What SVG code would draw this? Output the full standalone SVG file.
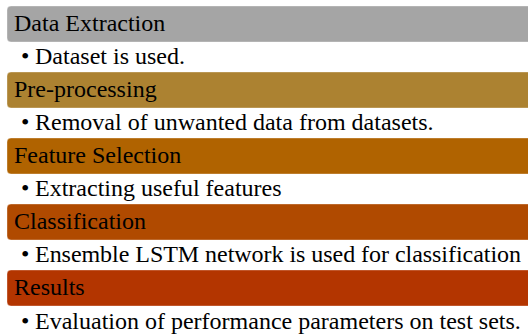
<svg xmlns="http://www.w3.org/2000/svg" width="528" height="336" viewBox="0 0 528 336">
<style>
.bar{stroke:#ffffff;stroke-opacity:0.35;stroke-width:1}
.h{font-family:"Liberation Serif","Times New Roman",serif;font-size:24px;fill:#000}
.b{font-family:"Liberation Serif","Times New Roman",serif;font-size:24px;fill:#000}
</style>
<rect width="528" height="336" fill="#ffffff"/>
<g id="data-extraction">
<rect class="bar" x="7" y="6" width="530" height="36" rx="4" fill="#A5A5A5"/>
<text class="h" x="14" y="31">Data Extraction</text>
<text class="b" x="21" y="64">•</text>
<text class="b" x="35" y="64">Dataset is used.</text>
</g>
<g id="pre-processing">
<rect class="bar" x="7" y="72" width="530" height="36" rx="4" fill="#AC8231"/>
<text class="h" x="14" y="97">Pre-processing</text>
<text class="b" x="21" y="130">•</text>
<text class="b" x="35" y="130">Removal of unwanted data from datasets.</text>
</g>
<g id="feature-selection">
<rect class="bar" x="7" y="138" width="530" height="36" rx="4" fill="#B06300"/>
<text class="h" x="14" y="163">Feature Selection</text>
<text class="b" x="21" y="196">•</text>
<text class="b" x="35" y="196">Extracting useful features</text>
</g>
<g id="classification">
<rect class="bar" x="7" y="204" width="530" height="36" rx="4" fill="#B04A00"/>
<text class="h" x="14" y="229">Classification</text>
<text class="b" x="21" y="262">•</text>
<text class="b" x="35" y="262" textLength="486" lengthAdjust="spacing">Ensemble LSTM network is used for classification</text>
</g>
<g id="results">
<rect class="bar" x="7" y="270" width="530" height="36" rx="4" fill="#B33500"/>
<text class="h" x="14" y="295">Results</text>
<text class="b" x="21" y="329">•</text>
<text class="b" x="35" y="329">Evaluation of performance parameters on test sets.</text>
</g>
<g id="connectors"></g>
</svg>
